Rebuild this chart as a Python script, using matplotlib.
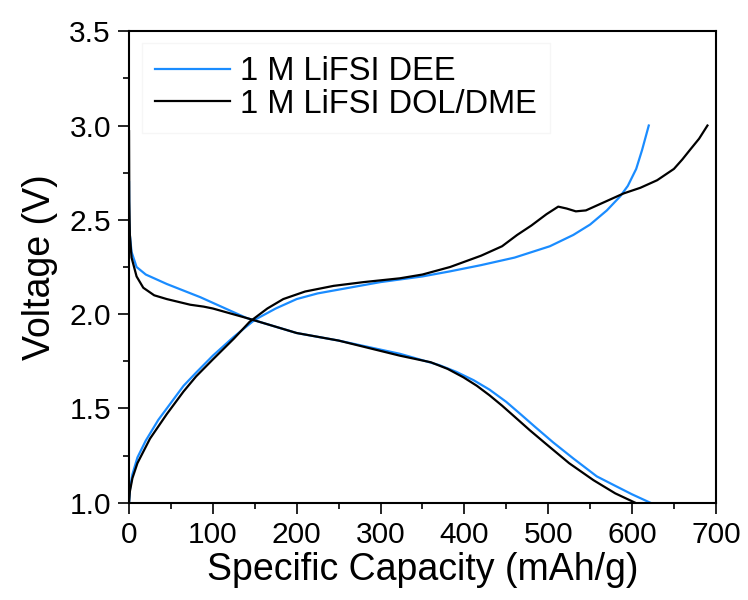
import numpy as np
import matplotlib
matplotlib.use("Agg")
import matplotlib.pyplot as plt
from matplotlib.ticker import MultipleLocator, FormatStrFormatter

plt.rcParams['font.family'] = ['Liberation Sans', 'DejaVu Sans']

# charge curves (capacity in mAh/g, voltage in V)
dee_chg_x = [0, 1, 4, 10, 20, 35, 50, 65, 80, 100, 125, 150, 175, 200, 225, 250, 300,
             350, 383, 420, 460, 502, 530, 550, 570, 586, 595, 605, 612, 620]
dee_chg_v = [1.0, 1.07, 1.15, 1.24, 1.33, 1.44, 1.53, 1.62, 1.69, 1.78, 1.88, 1.97, 2.03,
             2.08, 2.11, 2.13, 2.17, 2.2, 2.227, 2.26, 2.3, 2.36, 2.42, 2.475, 2.55, 2.625,
             2.68, 2.77, 2.87, 3.0]
dol_chg_x = [0, 1, 4, 10, 25, 45, 65, 80, 100, 125, 144, 165, 184, 210, 244, 280, 323,
             350, 383, 420, 445, 463, 480, 498, 512, 522, 533, 545, 560, 575, 590, 610,
             630, 650, 660, 669, 680, 690]
dol_chg_v = [1.0, 1.06, 1.13, 1.21, 1.34, 1.47, 1.59, 1.67, 1.76, 1.87, 1.96, 2.03, 2.08,
             2.12, 2.15, 2.17, 2.19, 2.21, 2.25, 2.31, 2.36, 2.42, 2.47, 2.53, 2.57, 2.56,
             2.545, 2.55, 2.58, 2.61, 2.64, 2.67, 2.71, 2.77, 2.82, 2.87, 2.93, 3.0]

# discharge curves
dee_dis_x = [0, 0.3, 1, 3, 9, 20, 45, 85, 140, 200, 250, 323, 335, 370, 390, 411, 430,
             450, 467, 485, 506, 530, 558, 580, 600, 622]
dee_dis_v = [2.7, 2.5, 2.42, 2.33, 2.25, 2.21, 2.16, 2.09, 1.98, 1.9, 1.86, 1.79, 1.775,
             1.73, 1.695, 1.65, 1.6, 1.535, 1.47, 1.4, 1.32, 1.235, 1.14, 1.09, 1.045, 1.0]
dol_dis_x = [0, 0.3, 1, 3, 9, 17, 30, 45, 73, 89, 100, 140, 200, 250, 323, 360, 380,
             399, 415, 430, 445, 459, 478, 498, 525, 554, 580, 604]
dol_dis_v = [2.97, 2.6, 2.42, 2.3, 2.2, 2.14, 2.1, 2.08, 2.05, 2.04, 2.03, 1.98, 1.9,
             1.86, 1.78, 1.745, 1.71, 1.665, 1.62, 1.57, 1.515, 1.46, 1.385, 1.31, 1.21,
             1.12, 1.05, 1.0]

blue = '#1a8cff'

fig = plt.figure(figsize=(7.48, 6), dpi=100)
ax = fig.add_axes([0.1725, 0.162, 0.7845, 0.786])

ax.plot(dee_chg_x, dee_chg_v, color=blue, lw=1.6, label='1 M LiFSI DEE')
ax.plot(dee_dis_x, dee_dis_v, color=blue, lw=1.6)
ax.plot(dol_chg_x, dol_chg_v, color='black', lw=1.6, label='1 M LiFSI DOL/DME')
ax.plot(dol_dis_x, dol_dis_v, color='black', lw=1.6)

ax.set_xlim(0, 700)
ax.set_ylim(1.0, 3.5)
ax.xaxis.set_major_locator(MultipleLocator(100))
ax.xaxis.set_minor_locator(MultipleLocator(50))
ax.yaxis.set_major_locator(MultipleLocator(0.5))
ax.yaxis.set_minor_locator(MultipleLocator(0.25))
ax.yaxis.set_major_formatter(FormatStrFormatter('%.1f'))
ax.tick_params(which='major', length=8, width=1.2, labelsize=21.5, direction='out', pad=5)
ax.tick_params(which='minor', length=4, width=1.2, direction='out')
for s in ax.spines.values():
    s.set_linewidth(1.5)

ax.set_xlabel('Specific Capacity (mAh/g)', fontsize=27, labelpad=2)
ax.set_ylabel('Voltage (V)', fontsize=27, labelpad=8)

leg = ax.legend(loc='upper left', bbox_to_anchor=(0.022, 0.975), fontsize=23.5,
                frameon=True, handlelength=2.3, borderaxespad=0, borderpad=0.4,
                handletextpad=0.3, labelspacing=0.05, fancybox=False)
leg.get_frame().set_edgecolor('#f4f4f4')
leg.get_frame().set_linewidth(1.0)

fig.savefig('out.png', dpi=100)
